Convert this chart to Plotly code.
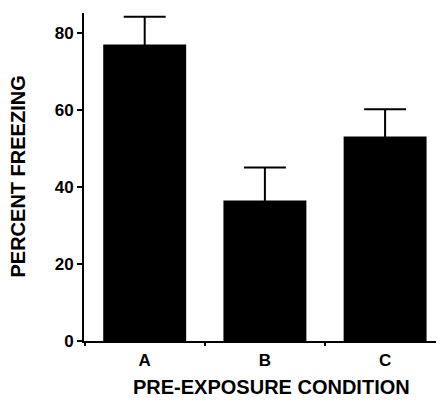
import plotly.graph_objects as go

categories = ["A", "B", "C"]
freezing = [77.0, 36.5, 53.1]
sem = [7.2, 8.6, 7.1]
y_ticks = [0, 20, 40, 60, 80]

fig = go.Figure()
fig.add_trace(go.Bar(
    x=categories, y=freezing, width=0.69,
    marker=dict(color="black", line=dict(width=0)),
    error_y=dict(type="data", array=sem, symmetric=True,
                 color="black", thickness=2, width=21),
))

font = "Liberation Sans, Arial, sans-serif"
fig.update_layout(
    width=436, height=395,
    margin=dict(l=76, r=0, t=5, b=62),
    paper_bgcolor="white", plot_bgcolor="white",
    showlegend=False,
    font=dict(family=font, color="black"),
    xaxis=dict(
        range=[-0.505, 2.49], showline=True, linecolor="black", linewidth=2,
        ticks="outside", tickson="boundaries", ticklen=3, tickwidth=1.5, tickcolor="black",
        tickfont=dict(family=font, size=17, color="black", weight="bold"),
        showgrid=False, zeroline=False, ticklabelstandoff=3,
    ),
    yaxis=dict(
        range=[0, 85.2], tickvals=y_ticks, showline=True, linecolor="black", linewidth=2,
        ticks="outside", ticklen=5, tickwidth=2, tickcolor="black",
        tickfont=dict(family=font, size=17, color="black", weight="bold"),
        showgrid=False, zeroline=False,
    ),
    annotations=[
        dict(text="<b>PRE-EXPOSURE CONDITION</b>", xref="paper", yref="paper",
             x=0.522, y=-0.1396, xanchor="center", yanchor="middle", showarrow=False,
             font=dict(family=font, size=20, color="black")),
        dict(text="<b>PERCENT FREEZING</b>", xref="paper", yref="paper",
             x=-0.1847, y=0.5, xanchor="center", yanchor="middle", showarrow=False,
             textangle=-90, font=dict(family=font, size=20, color="black")),
    ],
)

fig.write_html("out.html")
